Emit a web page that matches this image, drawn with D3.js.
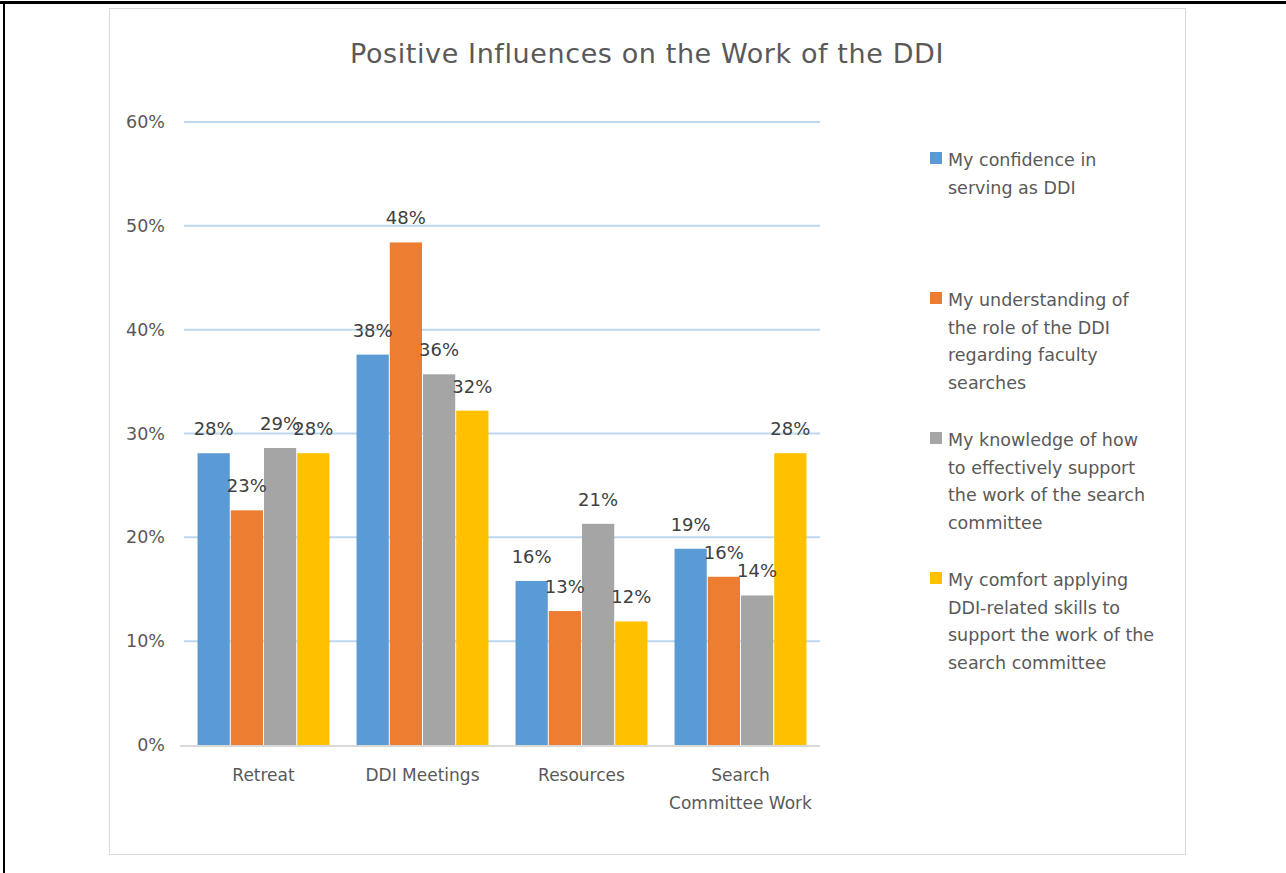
<!DOCTYPE html>
<html><head><meta charset="utf-8">
<script src="https://cdn.jsdelivr.net/npm/d3@7"></script>
<style>
body{margin:0;background:#fff;}
svg{display:block;}
</style></head>
<body><svg id="c" width="1286" height="873"></svg>
<script>
const categories = ["Retreat", "DDI Meetings", "Resources", "Search Committee Work"];
const categoryLines = [["Retreat"], ["DDI Meetings"], ["Resources"], ["Search", "Committee Work"]];
const seriesNames = [
  "My confidence in serving as DDI",
  "My understanding of the role of the DDI regarding faculty searches",
  "My knowledge of how to effectively support the work of the search committee",
  "My comfort applying DDI-related skills to support the work of the search committee"
];
const legendLines = [
  ["My confidence in", "serving as DDI"],
  ["My understanding of", "the role of the DDI", "regarding faculty", "searches"],
  ["My knowledge of how", "to effectively support", "the work of the search", "committee"],
  ["My comfort applying", "DDI-related skills to", "support the work of the", "search committee"]
];
const confidence   = [0.281, 0.376, 0.158, 0.189];
const understanding= [0.226, 0.484, 0.129, 0.162];
const knowledge    = [0.286, 0.357, 0.213, 0.144];
const comfort      = [0.281, 0.322, 0.119, 0.281];
const series = [confidence, understanding, knowledge, comfort];
const colors = ["#5b9bd5", "#ed7d31", "#a5a5a5", "#ffc000"];
const yTicks = [0, 0.1, 0.2, 0.3, 0.4, 0.5, 0.6];

const svg = d3.select("#c");
// outer frame lines
svg.append("rect").attr("x",0).attr("y",1).attr("width",1286).attr("height",3).attr("fill","#000");
svg.append("rect").attr("x",3).attr("y",1).attr("width",2).attr("height",872).attr("fill","#000");
// chart area border
svg.append("rect").attr("x",109.5).attr("y",8.5).attr("width",1076).attr("height",846)
  .attr("fill","#fff").attr("stroke","#d9d9d9").attr("stroke-width",1);

const plotL = 184, plotR = 820, plotT = 122, plotB = 745;
const x0 = d3.scaleBand().domain(categories).range([plotL, plotR]).paddingInner(0.164).paddingOuter(0.082);
const x1 = d3.scaleBand().domain(d3.range(4)).range([0, x0.bandwidth()]);
const y = d3.scaleLinear().domain([0, 0.6]).range([plotB, plotT]);

// gridlines
svg.append("g").selectAll("line").data(yTicks.slice(1)).join("line")
  .attr("x1", plotL).attr("x2", plotR)
  .attr("y1", d => y(d)).attr("y2", d => y(d))
  .attr("stroke", "#bdd7ee").attr("stroke-width", 2);

// y axis labels
const yAxis = d3.axisLeft(y).tickValues(yTicks).tickFormat(d3.format(".0%")).tickSize(0).tickPadding(0);
const ya = svg.append("g").attr("transform", `translate(165,0)`).call(yAxis);
ya.select(".domain").remove();
ya.selectAll("text").attr("font-family", "DejaVu Sans").attr("font-size", 17.5).attr("fill", "#595959");

// bars
const groups = svg.append("g").selectAll("g").data(categories).join("g")
  .attr("transform", c => `translate(${x0(c)},0)`);
groups.selectAll("rect").data((c, i) => series.map((s, k) => ({k, v: s[i]}))).join("rect")
  .attr("x", d => x1(d.k) + 0.5).attr("width", x1.bandwidth() - 1)
  .attr("y", d => y(d.v)).attr("height", d => y(0) - y(d.v))
  .attr("fill", d => colors[d.k]);
groups.selectAll("text").data((c, i) => series.map((s, k) => ({k, v: s[i]}))).join("text")
  .attr("x", d => x1(d.k) + x1.bandwidth() / 2)
  .attr("y", d => y(d.v) - 18)
  .attr("text-anchor", "middle")
  .attr("font-family", "DejaVu Sans").attr("font-size", 18).attr("fill", "#404040")
  .text(d => d3.format(".0%")(d.v));

// x axis line
svg.append("line").attr("x1", plotL - 4).attr("x2", plotR).attr("y1", plotB + 1).attr("y2", plotB + 1)
  .attr("stroke", "#d9d9d9").attr("stroke-width", 2);

// category labels
const xa = svg.append("g");
categories.forEach((c, i) => {
  const t = xa.append("text").attr("text-anchor", "middle")
    .attr("font-family", "DejaVu Sans").attr("font-size", 17).attr("fill", "#595959");
  categoryLines[i].forEach((ln, j) => {
    t.append("tspan").attr("x", x0(c) + x0.bandwidth() / 2).attr("y", 781 + j * 28).text(ln);
  });
});

// title
svg.append("text").attr("x", 647).attr("y", 63).attr("text-anchor", "middle")
  .attr("font-family", "DejaVu Sans").attr("font-size", 27).attr("letter-spacing", 0.6).attr("fill", "#595959")
  .text("Positive Influences on the Work of the DDI");

// legend
const lg = svg.append("g");
legendLines.forEach((lines, i) => {
  const top = 152 + i * 140;
  lg.append("rect").attr("x", 930).attr("y", top).attr("width", 12).attr("height", 12).attr("fill", colors[i]);
  const t = lg.append("text").attr("font-family", "DejaVu Sans").attr("font-size", 17.5).attr("fill", "#595959");
  lines.forEach((ln, j) => {
    t.append("tspan").attr("x", 948).attr("y", top + 14 + j * 27.5).text(ln);
  });
});
</script></body></html>
